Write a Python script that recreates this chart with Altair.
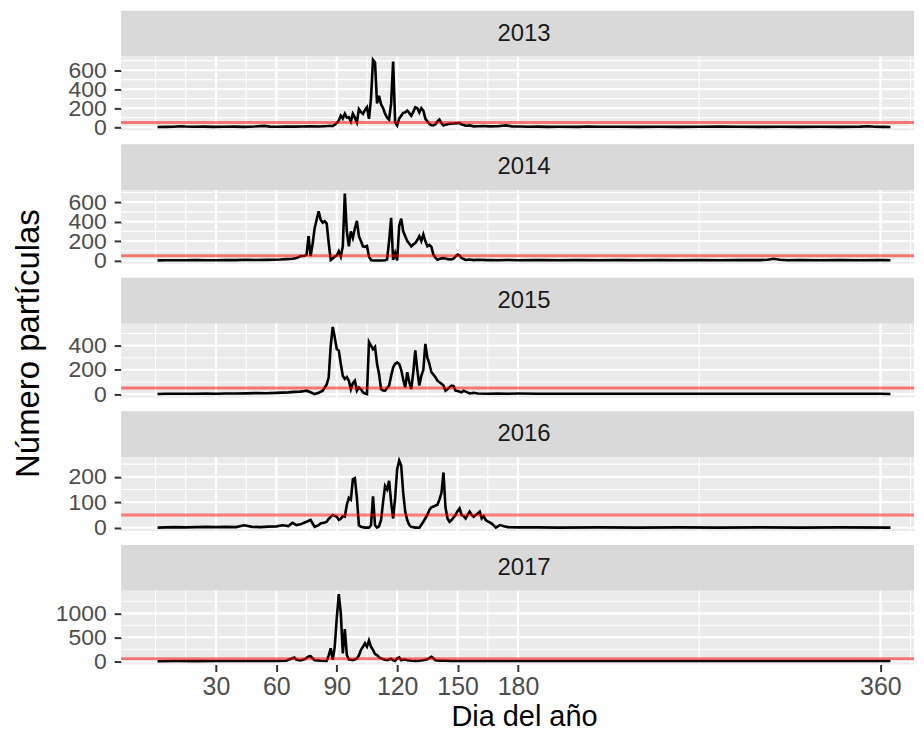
import altair as alt
import pandas as pd

FONT = "Liberation Sans"
YEARS = ["2013", "2014", "2015", "2016", "2017"]

days_2013 = [1, 5, 9, 12, 15, 19, 24, 29, 34, 39, 44, 49, 54, 57, 61, 65, 69, 73, 77, 81, 84, 87, 88, 89, 90, 91, 92, 93, 94, 95, 96, 97, 98, 99, 100, 101, 102, 103, 104, 105, 106, 107, 108, 109, 110, 111, 112, 113, 114, 115, 116, 117, 118, 119, 120, 121, 122, 123, 124, 125, 126, 127, 128, 129, 130, 131, 132, 133, 134, 135, 136, 137, 138, 139, 140, 141, 142, 143, 144, 145, 146, 148, 150, 151, 152, 154, 156, 158, 160, 163, 166, 170, 174, 177, 181, 185, 190, 195, 200, 210, 215, 220, 230, 240, 250, 260, 270, 280, 290, 300, 310, 320, 330, 340, 350, 354, 357, 361, 365]
vals_2013 = [2, 3, 4, 10, 6, 4, 5, 3, 4, 5, 3, 6, 13, 5, 4, 6, 5, 7, 8, 6, 10, 15, 10, 25, 45, 70, 120, 90, 140, 100, 105, 60, 140, 100, 50, 190, 160, 140, 180, 210, 87, 300, 708, 680, 250, 330, 240, 200, 140, 100, 80, 250, 690, 50, 17, 90, 120, 150, 155, 175, 150, 120, 160, 210, 200, 155, 200, 175, 90, 60, 35, 20, 17, 30, 60, 80, 40, 17, 25, 30, 35, 38, 42, 45, 30, 15, 18, 8, 10, 12, 8, 10, 18, 8, 6, 4, 5, 3, 4, 3, 6, 4, 4, 3, 4, 3, 4, 5, 4, 3, 4, 3, 4, 3, 5, 9, 4, 3, 2]

days_2014 = [1, 5, 10, 15, 20, 25, 30, 35, 40, 45, 50, 55, 59, 62, 65, 68, 70, 72, 74, 75, 76, 77, 78, 79, 80, 81, 82, 83, 84, 85, 86, 87, 88, 89, 90, 91, 92, 93, 94, 95, 96, 97, 98, 99, 100, 101, 102, 103, 104, 105, 106, 107, 108, 110, 112, 114, 115, 116, 117, 118, 119, 120, 121, 122, 123, 124, 125, 126, 127, 128, 129, 130, 131, 132, 133, 134, 135, 136, 137, 138, 139, 140, 141, 142, 143, 144, 145, 147, 148, 149, 150, 151, 152, 154, 156, 158, 160, 165, 170, 175, 180, 190, 200, 210, 220, 230, 240, 250, 260, 270, 280, 290, 300, 304, 307, 310, 314, 320, 330, 340, 350, 360, 365]
vals_2014 = [1, 2, 3, 2, 4, 3, 3, 5, 4, 7, 5, 6, 8, 10, 14, 18, 25, 45, 48, 60, 250, 45, 170, 330, 420, 505, 420, 390, 405, 380, 180, 5, 20, 40, 50, 95, 40, 146, 690, 300, 146, 300, 233, 330, 407, 250, 200, 146, 140, 150, 40, 5, 0, 0, 0, 2, 10, 200, 440, 5, 77, 2, 355, 430, 300, 250, 200, 175, 146, 165, 180, 210, 250, 200, 268, 200, 146, 160, 140, 60, 30, 8, 15, 22, 24, 20, 14, 10, 20, 40, 60, 50, 25, 5, 10, 4, 7, 4, 3, 5, 3, 4, 3, 4, 3, 4, 3, 4, 3, 4, 3, 4, 4, 8, 18, 8, 3, 4, 3, 4, 3, 4, 2]

days_2015 = [1, 5, 10, 15, 20, 25, 30, 35, 40, 45, 50, 55, 60, 63, 66, 69, 72, 74, 75, 77, 79, 81, 83, 85, 86, 87, 88, 89, 90, 91, 92, 93, 94, 95, 96, 97, 98, 99, 100, 101, 102, 103, 104, 105, 106, 107, 108, 109, 110, 111, 112, 113, 114, 115, 116, 117, 118, 119, 120, 121, 122, 123, 124, 125, 126, 127, 128, 129, 130, 131, 132, 133, 134, 135, 136, 137, 138, 139, 140, 141, 142, 143, 144, 145, 146, 147, 148, 149, 150, 152, 153, 154, 156, 158, 160, 165, 170, 175, 180, 190, 200, 210, 220, 230, 240, 250, 260, 270, 280, 290, 300, 310, 320, 330, 340, 350, 360, 365]
vals_2015 = [1, 2, 3, 2, 3, 4, 3, 4, 5, 6, 8, 7, 10, 12, 14, 18, 20, 25, 28, 15, 0, 10, 28, 80, 138, 400, 554, 470, 370, 360, 250, 150, 125, 140, 110, 40, 90, 110, 28, 55, 40, 14, 5, 0, 430, 400, 370, 390, 250, 165, 40, 30, 28, 50, 70, 150, 220, 250, 260, 250, 200, 120, 55, 180, 100, 40, 180, 360, 200, 70, 150, 200, 415, 300, 250, 180, 160, 140, 110, 97, 85, 70, 28, 40, 55, 70, 65, 28, 25, 14, 28, 20, 5, 10, 4, 3, 5, 3, 4, 3, 2, 3, 2, 3, 2, 3, 2, 3, 2, 3, 2, 3, 2, 3, 2, 3, 2, 1]

days_2016 = [1, 5, 10, 15, 20, 25, 30, 35, 40, 44, 48, 52, 56, 60, 63, 66, 68, 70, 72, 74, 75, 77, 79, 81, 82, 84, 85, 86, 88, 90, 91, 92, 93, 94, 95, 96, 97, 98, 99, 100, 101, 102, 104, 106, 107, 108, 109, 110, 111, 112, 113, 114, 115, 116, 117, 118, 119, 120, 121, 122, 123, 124, 125, 126, 127, 129, 131, 133, 135, 136, 137, 138, 140, 141, 142, 143, 144, 145, 146, 147, 148, 149, 150, 151, 152, 153, 154, 155, 156, 157, 158, 159, 160, 161, 162, 163, 164, 165, 167, 169, 171, 173, 175, 180, 190, 200, 220, 240, 260, 280, 300, 320, 340, 365]
vals_2016 = [0, 1, 2, 1, 2, 3, 2, 3, 2, 9, 3, 2, 4, 5, 9, 6, 19, 10, 13, 20, 23, 30, 3, 10, 16, 20, 23, 35, 50, 43, 30, 35, 45, 43, 90, 117, 110, 190, 195, 117, 9, 3, 0, 0, 9, 123, 9, 0, 5, 30, 100, 164, 150, 184, 100, 36, 117, 230, 264, 244, 137, 63, 30, 10, 3, 0, 0, 23, 50, 70, 80, 83, 90, 110, 137, 217, 80, 36, 23, 30, 40, 50, 65, 76, 50, 45, 36, 50, 63, 50, 43, 50, 55, 63, 36, 45, 30, 25, 16, 0, 10, 5, 2, 1, 1, 0, 1, 0, 1, 0, 1, 0, 1, 0]

days_2017 = [1, 10, 20, 30, 40, 50, 60, 65, 68, 69, 70, 72, 74, 76, 77, 78, 79, 82, 85, 86, 87, 88, 89, 90, 91, 92, 93, 94, 95, 96, 97, 98, 99, 100, 101, 102, 103, 104, 105, 106, 107, 108, 109, 110, 111, 112, 113, 114, 115, 116, 117, 118, 119, 120, 121, 122, 123, 124, 125, 127, 129, 131, 133, 135, 137, 138, 139, 141, 144, 147, 151, 155, 165, 180, 200, 230, 260, 290, 320, 350, 365]
vals_2017 = [0, 2, 1, 3, 2, 3, 5, 8, 60, 78, 30, 15, 40, 100, 106, 60, 20, 10, 5, 120, 270, 30, 300, 900, 1400, 1000, 160, 670, 130, 35, 30, 20, 35, 57, 120, 234, 300, 375, 305, 432, 300, 234, 150, 128, 80, 57, 40, 30, 20, 35, 50, 20, 5, 60, 78, 20, 30, 35, 20, 10, 5, 10, 20, 40, 92, 60, 20, 10, 8, 5, 5, 3, 2, 3, 2, 3, 2, 3, 2, 3, 2]

SERIES = {
    "2013": (days_2013, vals_2013),
    "2014": (days_2014, vals_2014),
    "2015": (days_2015, vals_2015),
    "2016": (days_2016, vals_2016),
    "2017": (days_2017, vals_2017),
}

y_breaks = {"2013": [0, 200, 400, 600], "2014": [0, 200, 400, 600],
            "2015": [0, 200, 400], "2016": [0, 100, 200], "2017": [0, 500, 1000]}
y_minor = {"2013": [100, 300, 500, 700], "2014": [100, 300, 500, 700],
           "2015": [100, 300, 500], "2016": [50, 150, 250], "2017": [250, 750, 1250]}
x_breaks = [30, 60, 90, 120, 150, 180, 360]
x_minor = [0, 15, 45, 75, 105, 135, 165, 270, 375]
threshold = [50]
x_domain = [-17.1, 376.7]

W = 795.5
PANEL_H = 74
STRIP_H = 46
GAP = 14
CENTER_X = 404.2
XTICK_FS = 25
YTICK_FS = 23

xscale = alt.Scale(domain=x_domain, nice=False, zero=False)


def strip(year, gap):
    d = pd.DataFrame({"lab": [year]})
    rect = alt.Chart(d).mark_rect(color="#D9D9D9").encode(
        x=alt.value(0), x2=alt.value(W), y=alt.value(gap), y2=alt.value(gap + STRIP_H))
    txt = alt.Chart(d).mark_text(font=FONT, fontSize=24, color="#1A1A1A",
                                 baseline="middle", align="center").encode(
        x=alt.value(CENTER_X), y=alt.value(gap + STRIP_H / 2), text="lab:N")
    return alt.layer(rect, txt).properties(width=W, height=gap + STRIP_H)


def panel(year, bottom=False, ytitle=False):
    days, vals = SERIES[year]
    df = pd.DataFrame({"dia": days, "n": vals})
    lo, hi = min(vals), max(vals)
    pad = 0.05 * (hi - lo)
    yscale = alt.Scale(domain=[lo - pad, hi + pad], nice=False, zero=False)

    yargs = dict(values=y_breaks[year], format="d", grid=False, domain=False, ticks=True,
                 tickSize=7, tickWidth=2, tickColor="#333333",
                 labelFont=FONT, labelFontSize=YTICK_FS, labelColor="#4D4D4D",
                 labelPadding=8, labelFlush=False, labelOverlap=False)
    if ytitle:
        yargs.update(title="Número partículas", titleFont=FONT, titleFontSize=33,
                     titleFontWeight="normal", titleColor="#000000",
                     titleX=-83, titleY=19.5, titleBaseline="alphabetic",
                     titleAngle=270, titleAlign="center")
    else:
        yargs.update(title=None)
    yaxis = alt.Axis(**yargs)

    if bottom:
        xaxis = alt.Axis(values=x_breaks, format="d", grid=False, domain=False, ticks=True,
                         tickSize=7, tickWidth=2, tickColor="#333333",
                         labelFont=FONT, labelFontSize=XTICK_FS, labelColor="#4D4D4D",
                         labelPadding=3, labelFlush=False, labelOverlap=False,
                         title="Dia del año", titleFont=FONT, titleFontSize=29,
                         titleFontWeight="normal", titleColor="#000000",
                         titlePadding=3, titleX=CENTER_X)
    else:
        xaxis = None

    vminor = alt.Chart(pd.DataFrame({"v": x_minor})).mark_rule(
        color="white", strokeWidth=1.1).encode(x=alt.X("v:Q", scale=xscale, axis=xaxis))
    vmajor = alt.Chart(pd.DataFrame({"v": x_breaks})).mark_rule(
        color="white", strokeWidth=2.2).encode(x=alt.X("v:Q", scale=xscale, axis=xaxis))
    hminor = alt.Chart(pd.DataFrame({"h": y_minor[year]})).mark_rule(
        color="white", strokeWidth=1.1).encode(y=alt.Y("h:Q", scale=yscale, axis=yaxis))
    hmajor = alt.Chart(pd.DataFrame({"h": y_breaks[year]})).mark_rule(
        color="white", strokeWidth=2.2).encode(y=alt.Y("h:Q", scale=yscale, axis=yaxis))
    line = alt.Chart(df).mark_line(color="black", strokeWidth=2.6).encode(
        x=alt.X("dia:Q", scale=xscale, axis=xaxis),
        y=alt.Y("n:Q", scale=yscale, axis=yaxis))
    hline = alt.Chart(pd.DataFrame({"t": threshold})).mark_rule(
        color="red", opacity=0.5, strokeWidth=3).encode(
        y=alt.Y("t:Q", scale=yscale, axis=yaxis))

    return alt.layer(vminor, vmajor, hminor, hmajor, line, hline).properties(
        width=W, height=PANEL_H,
        view=alt.ViewBackground(fill="#EBEBEB", strokeWidth=0))


rows = []
for i, yr in enumerate(YEARS):
    rows.append(strip(yr, 0 if i == 0 else GAP))
    rows.append(panel(yr, bottom=(i == len(YEARS) - 1), ytitle=(yr == "2015")))

chart = alt.vconcat(*rows, spacing=0, bounds="flush").properties(
    padding={"left": 3.5, "top": 1.5, "right": 0, "bottom": 0},
    background="white",
).configure_view(strokeWidth=0)

chart.save("out.html", embed_options={"renderer": "svg", "actions": False})
